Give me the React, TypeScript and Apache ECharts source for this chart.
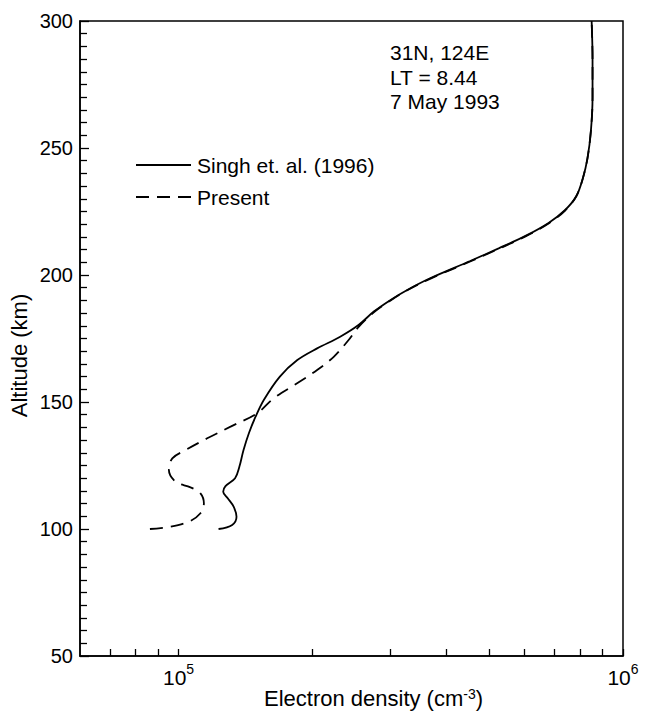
import React, { useEffect, useRef } from "react";
import * as echarts from "echarts";

// Singh et. al. (1996) profile: altitude (km) and electron density (cm^-3)
const singhAltitude = [100, 101.6, 104.8, 108.8, 112.1, 114.7, 116.9, 120, 124.5, 131.1, 137.8, 144.2, 150.8, 160, 166.5, 171.1, 175.7, 180.3, 185.6, 190.2, 194.1, 198.7, 205.5, 210.5, 215.5, 220.5, 225.5, 231, 238, 246, 257, 270, 285, 300];
const singhDensity = [1.23e5, 1.32e5, 1.35e5, 1.33e5, 1.29e5, 1.26e5, 1.275e5, 1.34e5, 1.37e5, 1.4e5, 1.44e5, 1.49e5, 1.555e5, 1.69e5, 1.85e5, 2.05e5, 2.31e5, 2.54e5, 2.75e5, 3.0e5, 3.27e5, 3.68e5, 4.53e5, 5.25e5, 6.05e5, 6.8e5, 7.4e5, 7.85e5, 8.12e5, 8.32e5, 8.47e5, 8.54e5, 8.54e5, 8.5e5];

// Present model profile
const presentAltitude = [100, 100.9, 102.9, 106.2, 110.1, 114.0, 116.4, 118.6, 123.2, 127.8, 131.1, 135.7, 140.3, 145.6, 151.5, 157.4, 162.6, 167.8, 174.4, 179.6, 185.3, 190.0, 194.0, 198.5, 205.3, 210.3, 215.3, 220.3, 225.3, 231, 238, 246, 257, 270, 285, 300];
const presentDensity = [8.62e4, 9.59e4, 1.055e5, 1.12e5, 1.14e5, 1.12e5, 1.064e5, 9.85e4, 9.51e4, 9.68e4, 1.037e5, 1.16e5, 1.309e5, 1.503e5, 1.638e5, 1.848e5, 2.05e5, 2.234e5, 2.413e5, 2.542e5, 2.75e5, 3.0e5, 3.27e5, 3.68e5, 4.53e5, 5.25e5, 6.05e5, 6.8e5, 7.4e5, 7.85e5, 8.12e5, 8.32e5, 8.47e5, 8.54e5, 8.54e5, 8.5e5];

// Axis settings
const xMinDensity = 6e4;
const xMaxDensity = 1e6;
const xTickDensities = [7e4, 8e4, 9e4, 1e5, 2e5, 3e5, 4e5, 5e5, 6e5, 7e5, 8e5, 9e5, 1e6];
const xLabelExponents = [5, 6];
const yMin = 50;
const yMax = 300;
const yInterval = 50;

const annotationLines = ["31N, 124E", "LT = 8.44", "7 May 1993"];
const seriesNames = ["Singh et. al. (1996)", "Present"];

const FONT = "'Liberation Sans', Arial, Helvetica, sans-serif";

export default function App() {
  const ref = useRef<HTMLDivElement>(null);
  useEffect(() => {
    if (!ref.current) return;
    const chart = echarts.init(ref.current, undefined, { renderer: "svg" });
    const toPts = (d: number[], a: number[]) => d.map((v, i) => [Math.log10(v), a[i]]);
    chart.setOption({
      animation: false,
      backgroundColor: "#fff",
      textStyle: { fontFamily: FONT, color: "#000" },
      grid: {
        left: 80,
        right: 22,
        top: 21,
        bottom: 63,
        outerBoundsMode: "none",
        containLabel: false,
        show: true,
        borderColor: "#000",
        borderWidth: 1.5,
        backgroundColor: "transparent",
      },
      xAxis: {
        type: "value",
        min: Math.log10(xMinDensity),
        max: Math.log10(xMaxDensity),
        name: "{t|Electron density (cm}{s|-3}{t|)}",
        nameLocation: "middle",
        nameGap: 31,
        nameMoveOverlap: false,
        nameTextStyle: {
          fontSize: 22,
          lineHeight: 22,
          padding: [0, 0, 0, 44],
          rich: {
            t: { fontSize: 22, fontFamily: FONT, color: "#000", lineHeight: 22, verticalAlign: "bottom" },
            s: { fontSize: 14, fontFamily: FONT, color: "#000", lineHeight: 12, verticalAlign: "top" },
          },
        },
        axisLine: { show: true, lineStyle: { color: "#000", width: 1.5 } },
        axisTick: {
          show: true,
          inside: true,
          length: 7,
          customValues: xTickDensities.map((v) => Math.log10(v)),
          lineStyle: { color: "#000", width: 1.3 },
        },
        axisLabel: {
          show: true,
          customValues: xLabelExponents,
          margin: 6,
          fontSize: 21,
          color: "#000",
          fontFamily: FONT,
          formatter: (v: number) => `{base|10}{sup|${Math.round(v)}}`,
          rich: {
            base: { fontSize: 21, fontFamily: FONT, color: "#000", lineHeight: 26, verticalAlign: "bottom" },
            sup: { fontSize: 14, fontFamily: FONT, color: "#000", lineHeight: 16, verticalAlign: "top" },
          },
        },
        splitLine: { show: false },
      },
      yAxis: {
        type: "value",
        min: yMin,
        max: yMax,
        interval: yInterval,
        name: "Altitude (km)",
        nameLocation: "middle",
        nameGap: 50,
        nameMoveOverlap: false,
        nameTextStyle: { fontSize: 22, fontFamily: FONT, color: "#000", padding: [0, 34, 0, 0] },
        axisLine: { show: true, lineStyle: { color: "#000", width: 1.5 } },
        axisTick: { show: true, inside: true, length: 9, lineStyle: { color: "#000", width: 1.3 } },
        minorTick: { show: true, splitNumber: 10, length: 7, lineStyle: { color: "#000", width: 1.3 } },
        axisLabel: { fontSize: 20, fontFamily: FONT, color: "#000", margin: 7 },
        splitLine: { show: false },
        minorSplitLine: { show: false },
      },
      legend: {
        orient: "vertical",
        left: 130,
        top: 149,
        itemWidth: 55,
        itemHeight: 14,
        itemGap: 10,
        itemStyle: { opacity: 0 },
        textStyle: { fontSize: 21, fontFamily: FONT, color: "#000", lineHeight: 22, padding: [0, 0, 0, 1] },
        data: seriesNames,
      },
      series: [
        {
          name: seriesNames[0],
          type: "line",
          data: toPts(singhDensity, singhAltitude),
          showSymbol: false,
          symbol: "none",
          smooth: 0.35,
          lineStyle: { color: "#000", width: 1.8, type: "solid" },
          itemStyle: { color: "#000" },
        },
        {
          name: seriesNames[1],
          type: "line",
          data: toPts(presentDensity, presentAltitude),
          showSymbol: false,
          symbol: "none",
          smooth: 0.35,
          lineStyle: { color: "#000", width: 1.8, type: [13, 8] },
          itemStyle: { color: "#000" },
        },
      ],
      graphic: annotationLines.map((t, i) => ({
        type: "text",
        left: 390,
        top: 42 + i * 24.5,
        style: { text: t, fontSize: 21, fontFamily: FONT, fill: "#000" },
      })),
    });
    return () => chart.dispose();
  }, []);
  return <div ref={ref} style={{ width: 645, height: 719, position: "absolute", left: 0, top: 0 }} />;
}
